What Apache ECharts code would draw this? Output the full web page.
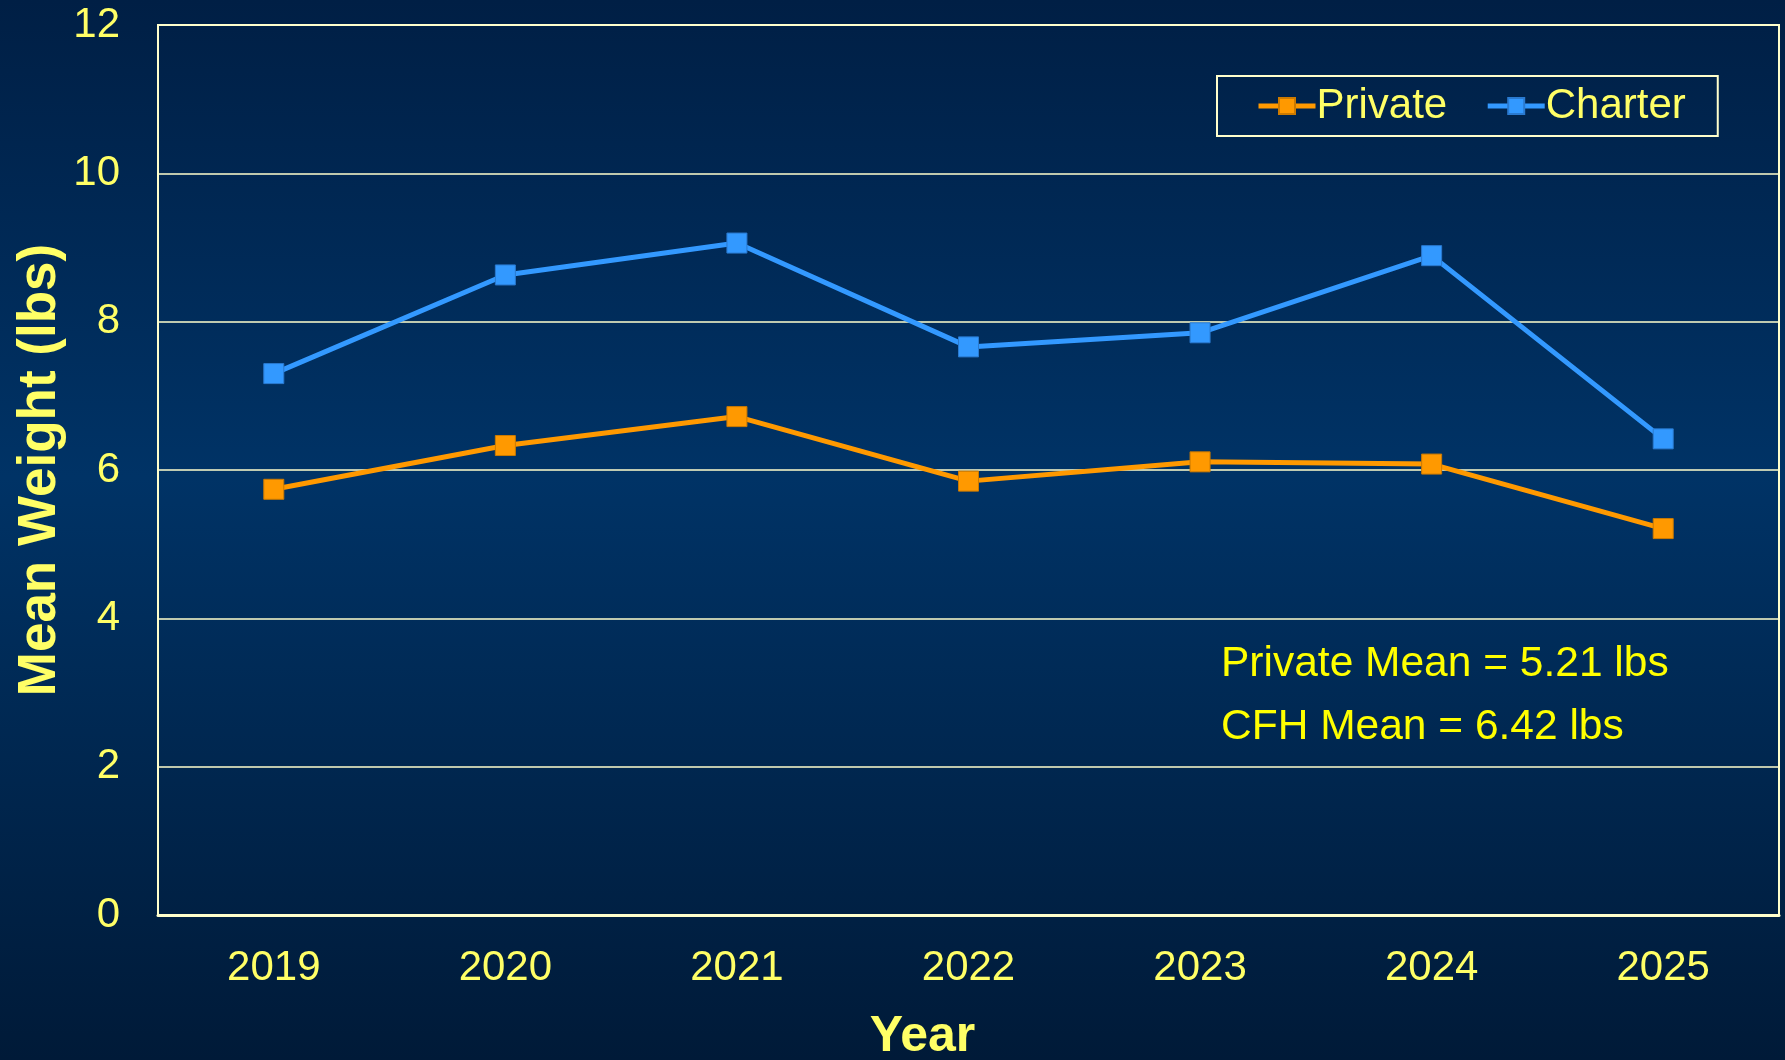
<!DOCTYPE html>
<html>
<head>
<meta charset="utf-8">
<title>Mean Weight</title>
<script src="https://cdn.jsdelivr.net/npm/echarts@6/dist/echarts.min.js"></script>
<style>
  html, body { margin: 0; padding: 0; }
  #chart { width: 1785px; height: 1060px; }
</style>
</head>
<body>
<div id="chart"></div>
<script>
// data
const years = ['2019', '2020', '2021', '2022', '2023', '2024', '2025']
const privateWeights = [5.74, 6.33, 6.72, 5.85, 6.11, 6.08, 5.21]
const charterWeights = [7.30, 8.63, 9.06, 7.66, 7.85, 8.89, 6.42]
const yTicks = { min: 0, max: 12, interval: 2 }
const notes = ['Private Mean = 5.21 lbs', 'CFH Mean = 6.42 lbs']

const font = 'Liberation Sans, Arial, sans-serif'
const cream = '#ffffcc'
const yellow = '#ffff66'

const chart = echarts.init(document.getElementById('chart'))

chart.setOption({
  animation: false,
  backgroundColor: {
    type: 'linear', x: 0, y: 0, x2: 0, y2: 1,
    colorStops: [
      { offset: 0, color: '#001f45' },
      { offset: 0.45, color: '#003366' },
      { offset: 1, color: '#001a38' }
    ]
  },
  textStyle: { fontFamily: font },
  grid: {
    left: 158,
    right: 6,
    top: 25,
    bottom: 145,
    outerBoundsMode: 'none',
    show: true,
    borderColor: cream,
    borderWidth: 2,
    backgroundColor: 'transparent'
  },
  legend: {
    data: ['Private', 'Charter'],
    left: 1217,
    top: 76,
    padding: [9, 32, 9, 39],
    itemWidth: 57,
    itemHeight: 20,
    itemGap: 38,
    borderColor: cream,
    borderWidth: 2,
    lineStyle: { width: 5 },
    textStyle: { color: yellow, fontSize: 42, fontFamily: font, lineHeight: 42, padding: [0, 0, 0, -4] }
  },
  xAxis: {
    type: 'category',
    data: years,
    boundaryGap: true,
    name: 'Year',
    nameLocation: 'middle',
    nameGap: 97,
    nameMoveOverlap: false,
    nameTextStyle: { color: yellow, fontSize: 50, fontWeight: 'bold', fontFamily: font, padding: [0, 92, 0, 0] },
    axisLine: { lineStyle: { color: cream, width: 3 } },
    axisTick: { alignWithLabel: true, inside: true, length: 9, lineStyle: { color: cream, width: 1.5 } },
    axisLabel: { color: yellow, fontSize: 42, margin: 32, fontFamily: font }
  },
  yAxis: {
    type: 'value',
    min: yTicks.min,
    max: yTicks.max,
    interval: yTicks.interval,
    name: 'Mean Weight (lbs)',
    nameLocation: 'middle',
    nameGap: 91,
    nameMoveOverlap: false,
    nameTextStyle: { color: yellow, fontSize: 53, fontWeight: 'bold', fontFamily: font },
    axisLine: { show: true, lineStyle: { color: cream, width: 2 } },
    axisTick: { show: false },
    axisLabel: { color: yellow, fontSize: 42, margin: 38, fontFamily: font },
    splitLine: { lineStyle: { color: cream, width: 1.5 } }
  },
  series: [
    {
      name: 'Private',
      type: 'line',
      data: privateWeights,
      symbol: 'rect',
      symbolSize: 20,
      color: '#ff9900',
      lineStyle: { color: '#ff9900', width: 5 },
      itemStyle: { color: '#ff9900', borderColor: '#cc7a00', borderWidth: 1 }
    },
    {
      name: 'Charter',
      type: 'line',
      data: charterWeights,
      symbol: 'rect',
      symbolSize: 20,
      color: '#3399ff',
      lineStyle: { color: '#3399ff', width: 5 },
      itemStyle: { color: '#3399ff', borderColor: '#2a7ad0', borderWidth: 1 }
    }
  ],
  graphic: notes.map((t, i) => ({
    type: 'text',
    left: 1221,
    top: 643 + i * 63,
    style: { text: t, fill: '#ffff00', fontSize: 42.5, fontFamily: font }
  }))
})
</script>
</body>
</html>
